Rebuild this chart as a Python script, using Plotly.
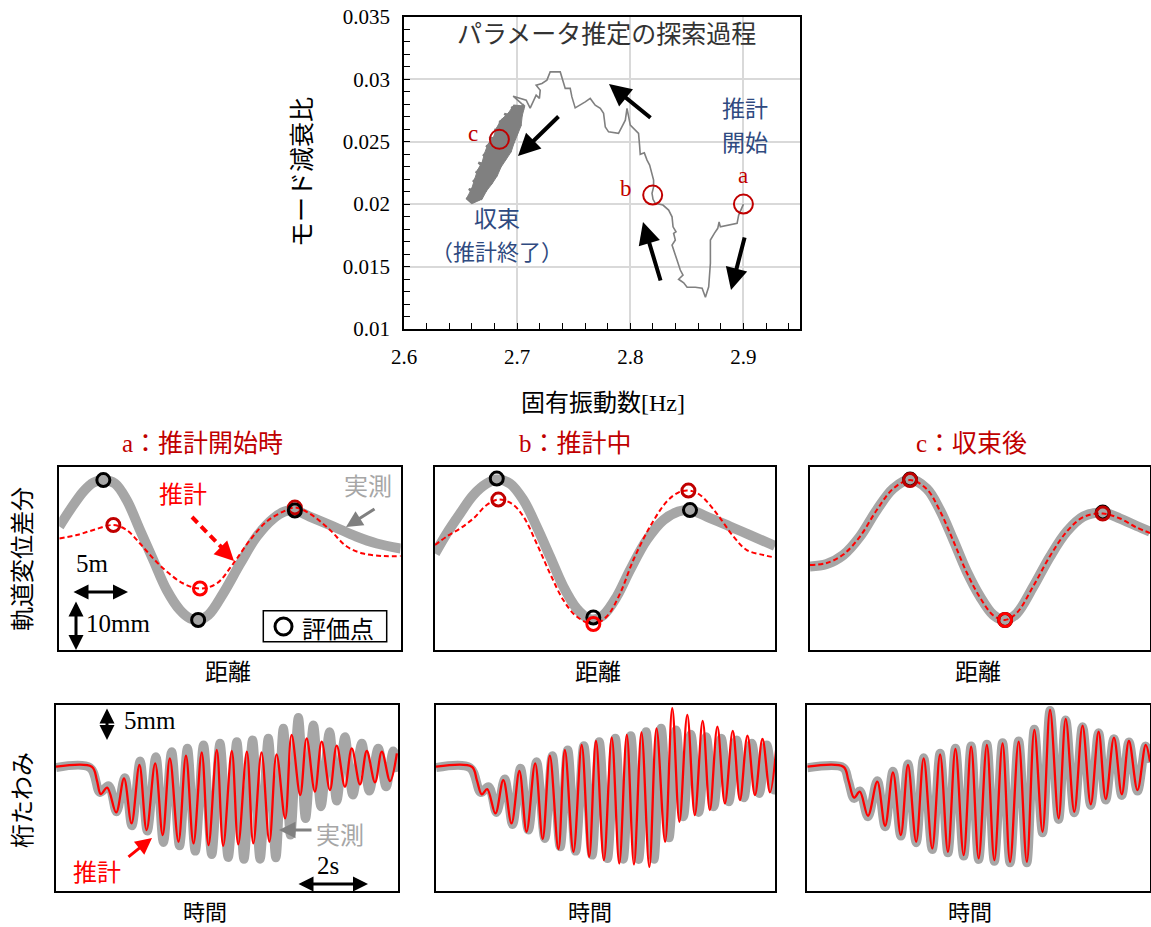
import plotly.graph_objects as go

W, H = 1151, 927
SERIF = "Liberation Serif, Noto Sans CJK JP"
JP = "Noto Sans CJK JP"
GRAY = "#A6A6A6"
DARKRED = "#C00000"
RED = "#FF0000"
NAVY = "#2F4A80"

# ---------------- search path: natural frequency [Hz] / modal damping ratio ----------------
path_freq = [2.9000, 2.8958, 2.8944, 2.8796, 2.8785, 2.8773, 2.8743, 2.8708, 2.8708, 2.8693,
             2.8664, 2.8635, 2.8575, 2.8502, 2.8472, 2.8427, 2.8466, 2.8442, 2.8413, 2.8392,
             2.8369, 2.8398, 2.8383, 2.8404, 2.8378, 2.8369, 2.8339, 2.8289, 2.8221, 2.8201,
             2.8192, 2.8206, 2.8206, 2.8171, 2.8148, 2.8124, 2.8088, 2.8082, 2.8073, 2.8000,
             2.7971, 2.7956, 2.7896, 2.7808, 2.7779, 2.7764, 2.7735, 2.7690, 2.7646, 2.7602,
             2.7513, 2.7484, 2.7469, 2.7425, 2.7410, 2.7381, 2.7292, 2.7263, 2.7219, 2.7168,
             2.7204, 2.7197, 2.7168, 2.7115, 2.7080, 2.6965, 2.7044]
path_damp = [0.02000, 0.01912, 0.01846, 0.01818, 0.01858, 0.01806, 0.01766, 0.01712, 0.01526, 0.01338,
             0.01254, 0.01326, 0.01334, 0.01334, 0.01370, 0.01398, 0.01432, 0.01472, 0.01552, 0.01606,
             0.01672, 0.01712, 0.01766, 0.01778, 0.01818, 0.01898, 0.01952, 0.01992, 0.02006, 0.02038,
             0.02086, 0.02138, 0.02192, 0.02312, 0.02352, 0.02410, 0.02398, 0.02472, 0.02566, 0.02632,
             0.02766, 0.02672, 0.02566, 0.02578, 0.02618, 0.02726, 0.02766, 0.02792, 0.02846, 0.02818,
             0.02770, 0.02858, 0.02926, 0.02926, 0.02978, 0.03058, 0.03058, 0.02992, 0.02966, 0.02952,
             0.02912, 0.02846, 0.02872, 0.02768, 0.02832, 0.02864, 0.02800]

# dense wandering of the search near the converged values (down sweep, then back up)
cluster_down_freq = [2.7066, 2.6967, 2.7045, 2.6921, 2.7035, 2.6857, 2.7004, 2.6818, 2.6973, 2.6792,
                     2.6947, 2.6742, 2.6901, 2.6713, 2.6857, 2.6691, 2.6824, 2.6650, 2.6780, 2.6623,
                     2.6730, 2.6600, 2.6690, 2.6564, 2.6605]
cluster_down_damp = [0.02780, 0.02788, 0.02707, 0.02727, 0.02627, 0.02674, 0.02557, 0.02609, 0.02489, 0.02538,
                     0.02418, 0.02480, 0.02357, 0.02409, 0.02295, 0.02336, 0.02226, 0.02272, 0.02165, 0.02202,
                     0.02106, 0.02128, 0.02040, 0.02062, 0.02005]
cluster_up_freq = [2.6551, 2.6665, 2.6574, 2.6712, 2.6609, 2.6761, 2.6634, 2.6793, 2.6658, 2.6839,
                   2.6698, 2.6884, 2.6725, 2.6915, 2.6754, 2.6956, 2.6800, 2.6992, 2.6841, 2.7010,
                   2.6887, 2.7034, 2.6949, 2.7056, 2.6905, 2.6870, 2.6843]
cluster_up_damp = [0.02048, 0.02033, 0.02121, 0.02094, 0.02189, 0.02154, 0.02260, 0.02222, 0.02332, 0.02283,
                   0.02396, 0.02345, 0.02467, 0.02413, 0.02536, 0.02477, 0.02598, 0.02544, 0.02662, 0.02617,
                   0.02723, 0.02690, 0.02775, 0.02764, 0.02620, 0.02560, 0.02520]

mark_labels = ["a", "b", "c"]
mark_freq = [2.900, 2.8198, 2.6843]
mark_damp = [0.0200, 0.02072, 0.02518]

# ---------------- track irregularity difference (distance [m], displacement [mm]) ----------------
dist_meas_a = [0, 0.94, 2.11, 2.99, 3.87, 4.89, 5.92, 7.09, 8.26, 9.44, 10.6, 11.5, 12.2, 13.1,
               14.4, 15.9, 17.35, 18.8, 19.8, 20.7, 22.0, 24.1, 26.1, 27.9, 30.0]
disp_meas_a = [4.7, 8.0, 11.7, 13.5, 14.0, 13.3, 10.0, 4.0, -2.0, -8.0, -12.0, -13.7, -14.0, -13.0,
               -8.7, -2.7, 2.7, 6.3, 7.7, 7.9, 6.7, 4.7, 2.7, 1.3, 0.3]
dist_est_a = [0, 1.53, 2.99, 4.75, 5.92, 7.09, 8.26, 9.44, 10.9, 12.36, 13.83, 15.29, 16.76,
              18.22, 19.68, 20.7, 22.0, 23.79, 25.26, 26.71, 28.47, 30.0]
disp_est_a = [2.3, 3.0, 4.0, 5.0, 4.0, 1.3, -1.7, -4.3, -6.7, -7.7, -6.7, -2.7, 2.0,
              5.7, 7.7, 8.5, 7.3, 4.0, 0.7, -0.7, -1.2, -1.2]
eval_meas_x_a, eval_meas_y_a = [3.87, 12.2, 20.7], [14.0, -14.0, 7.9]
eval_est_x_a, eval_est_y_a = [4.75, 12.36, 20.7], [5.0, -7.7, 8.5]

dist_meas_b = [0, 1.03, 2.21, 3.38, 4.56, 5.45, 6.62, 7.8, 8.97, 10.15, 11.32, 12.5, 13.53, 13.97,
               14.86, 16.04, 17.21, 18.68, 20.15, 21.47, 22.5, 23.97, 26.04, 27.8, 30.0]
disp_meas_b = [-0.7, 3.3, 7.3, 11.0, 13.3, 14.1, 13.3, 10.0, 4.7, -1.3, -7.3, -11.7, -13.7, -13.9,
               -13.0, -9.3, -4.0, 2.0, 6.0, 7.7, 8.0, 6.7, 4.7, 3.0, 0.8]
dist_est_b = [0, 1.03, 2.21, 3.38, 4.56, 5.59, 6.77, 7.8, 8.97, 10.15, 11.32, 12.5, 13.97, 15.15,
              16.33, 17.5, 18.98, 20.45, 21.47, 22.36, 23.39, 24.86, 26.33, 27.51, 28.98, 30.0]
disp_est_b = [1.0, 2.7, 4.3, 6.3, 9.0, 10.1, 9.3, 6.7, 1.3, -4.7, -10.0, -13.3, -14.8, -13.3,
              -8.7, -2.0, 4.7, 9.7, 11.5, 11.9, 11.0, 7.3, 2.7, 0.0, -1.0, -1.5]
eval_meas_x_b, eval_meas_y_b = [5.45, 13.97, 22.5], [14.3, -13.5, 8.0]
eval_est_x_b, eval_est_y_b = [5.59, 13.97, 22.36], [10.1, -14.8, 11.9]

dist_c = [0, 1.47, 2.94, 4.41, 5.89, 7.35, 8.83, 10.3, 11.47, 12.65, 13.83, 15.0, 16.18, 17.21,
          18.24, 19.71, 21.18, 22.66, 24.12, 25.83, 27.36, 28.83, 30.0]
disp_meas_c = [-3.3, -2.8, -1.0, 2.7, 8.0, 12.3, 14.1, 12.3, 8.0, 2.0, -4.3, -9.3, -13.0, -14.0,
               -12.7, -7.3, -1.3, 3.7, 6.7, 7.5, 6.3, 4.8, 3.7]
disp_est_c = [-3.0, -2.6, -0.9, 2.7, 8.0, 12.3, 14.0, 12.2, 7.8, 1.8, -4.5, -9.5, -13.1, -14.0,
              -12.6, -7.2, -1.2, 3.7, 6.6, 7.3, 6.3, 4.5, 3.4]
eval_meas_x_c, eval_meas_y_c = [8.83, 17.21, 25.83], [14.1, -14.0, 7.5]
eval_est_x_c, eval_est_y_c = [8.83, 17.21, 25.83], [14.0, -14.0, 7.3]

# ---------------- girder deflection (time [s], deflection [mm]) ----------------
time_meas_a = [0, 0.95, 1.23, 1.47, 1.69, 1.92, 2.12, 2.35, 2.55, 2.79, 3.00, 3.23, 3.45, 3.67,
               3.89, 4.12, 4.35, 4.58, 4.81, 5.05, 5.25, 5.49, 5.70, 5.93, 6.14, 6.35, 6.55, 6.77,
               6.97, 7.19, 7.40, 7.64, 7.84, 8.07, 8.29, 8.54, 8.75, 9.00, 9.22, 9.42, 9.56]
defl_meas_a = [-0.15, -0.15, -3.85, -2.85, -6.75, -1.65, -8.85, 0.85, -9.65, 1.5, -11.35, 2.25,
               -11.85, 2.75, -12.65, 3.25, -13.15, 3.5, -13.6, 3.75, -13.85, 4.0, -13.85, 4.25,
               -13.65, 5.75, -10.25, 7.35, -7.75, 6.25, -6.0, 5.25, -5.15, 4.5, -4.25, 3.5, -3.65,
               2.75, -3.0, 2.35, -0.75]
time_est_a = [0, 1.00, 1.14, 1.25, 1.43, 1.68, 1.90, 2.11, 2.33, 2.53, 2.77, 2.98, 3.18, 3.42,
              3.63, 3.84, 4.07, 4.26, 4.49, 4.67, 4.91, 5.09, 5.33, 5.51, 5.74, 5.96, 6.16, 6.40,
              6.58, 6.82, 7.00, 7.23, 7.42, 7.65, 7.84, 8.07, 8.26, 8.49, 8.68, 8.91, 9.10, 9.33, 9.52]
defl_est_a = [0, 0, -2.0, -4.1, -3.15, -6.85, -1.75, -8.5, 0.25, -9.5, 0.5, -10.25, 1.25, -11.25,
              1.65, -11.5, 2.15, -11.75, 2.5, -11.85, 2.35, -11.65, 2.25, -11.5, 2.15, -11.25, 1.85,
              -7.75, 4.75, -4.25, 4.25, -3.75, 3.75, -3.5, 3.15, -3.0, 2.75, -2.65, 2.35, -2.35,
              2.25, -2.15, 2.0]

time_meas_b = [0, 0.95, 1.25, 1.47, 1.69, 1.92, 2.14, 2.36, 2.58, 2.81, 3.04, 3.25, 3.47, 3.68,
               3.90, 4.13, 4.36, 4.56, 4.79, 5.01, 5.23, 5.44, 5.66, 5.87, 6.09, 6.29, 6.51, 6.71,
               6.91, 7.12, 7.34, 7.55, 7.76, 7.97, 8.18, 8.40, 8.60, 8.82, 9.03, 9.24, 9.45, 9.56]
defl_meas_b = [-0.15, -0.15, -3.85, -3.0, -6.85, -1.85, -8.65, -0.25, -9.5, 0.75, -10.75, 1.65,
               -12.0, 2.5, -12.65, 3.15, -13.25, 3.75, -13.75, 4.25, -13.85, 4.65, -13.9, 5.25,
               -13.85, 5.75, -10.65, 5.5, -7.5, 4.85, -6.85, 4.5, -6.0, 4.25, -5.25, 4.0, -4.65,
               3.5, -4.0, 3.25, -3.5, -0.75]
time_est_b = [0, 1.00, 1.14, 1.28, 1.43, 1.66, 1.88, 2.11, 2.33, 2.53, 2.77, 2.98, 3.18, 3.42,
              3.60, 3.84, 4.07, 4.28, 4.47, 4.69, 4.91, 5.12, 5.33, 5.53, 5.74, 5.96, 6.16, 6.40,
              6.60, 6.80, 7.02, 7.23, 7.45, 7.65, 7.86, 8.07, 8.29, 8.49, 8.70, 8.91, 9.12, 9.33, 9.52]
defl_est_b = [0, 0, -2.0, -4.15, -3.35, -7.0, -2.0, -8.5, -0.65, -9.75, 0.5, -10.85, 1.65, -12.35,
              2.5, -12.75, 3.25, -13.5, 3.85, -14.0, 4.35, -14.5, 4.75, -14.65, 5.15, -15.0, 5.75,
              -11.25, 8.75, -8.25, 7.75, -7.25, 6.85, -6.5, 6.0, -5.5, 5.35, -5.0, 4.65, -4.25,
              4.15, -3.85, 3.65]

time_c = [0, 1.01, 1.15, 1.31, 1.47, 1.70, 1.96, 2.18, 2.40, 2.62, 2.82, 3.05, 3.26, 3.50,
          3.72, 3.94, 4.15, 4.38, 4.59, 4.80, 5.03, 5.24, 5.47, 5.68, 5.92, 6.15, 6.36, 6.59,
          6.80, 7.04, 7.24, 7.48, 7.71, 7.94, 8.16, 8.36, 8.59, 8.81, 9.01, 9.25, 9.48, 9.60]
defl_meas_c = [-0.15, -0.15, -2.1, -4.75, -3.65, -7.5, -2.1, -9.0, -0.7, -10.4, 0.4, -11.4, 1.35,
               -12.4, 2.0, -12.9, 2.75, -13.4, 3.1, -13.9, 3.35, -14.15, 3.6, -14.4, 3.85, -14.4,
               5.6, -9.9, 8.4, -7.9, 7.0, -6.9, 6.0, -5.8, 5.1, -5.0, 4.2, -4.3, 3.7, -3.65, 3.1, 0.6]
defl_est_c = [0, 0, -2.0, -4.65, -3.75, -7.35, -2.25, -8.85, -0.85, -10.25, 0.25, -11.25, 1.25,
              -12.25, 1.85, -12.75, 2.65, -13.25, 3.0, -13.75, 3.25, -14.0, 3.5, -14.25, 3.75,
              -14.25, 5.5, -9.75, 8.5, -7.75, 7.15, -6.75, 6.15, -5.65, 5.25, -4.85, 4.35, -4.15,
              3.85, -3.5, 3.25, 0.75]


def fx(px):
    return px / W


def fy(py):
    return 1 - py / H


fig = go.Figure()

# ---- search path ----
PATH_GRAY = "#808080"
# filled envelope of the converged cloud: left-side samples going down, right-side samples coming back
hull_freq = cluster_down_freq[1::2] + cluster_down_freq[0::2][::-1]
hull_damp = cluster_down_damp[1::2] + cluster_down_damp[0::2][::-1]
fig.add_trace(go.Scatter(x=hull_freq, y=hull_damp, mode="lines", xaxis="x", yaxis="y",
                         fill="toself", fillcolor=PATH_GRAY, line=dict(color=PATH_GRAY, width=1),
                         showlegend=False, hoverinfo="skip"))
fig.add_trace(go.Scatter(x=path_freq, y=path_damp, mode="lines", xaxis="x", yaxis="y",
                         line=dict(color=PATH_GRAY, width=1.6), showlegend=False))
fig.add_trace(go.Scatter(x=[path_freq[-1]] + cluster_down_freq + cluster_up_freq,
                         y=[path_damp[-1]] + cluster_down_damp + cluster_up_damp,
                         mode="lines", xaxis="x", yaxis="y",
                         line=dict(color=PATH_GRAY, width=2.2), showlegend=False))
fig.add_trace(go.Scatter(x=mark_freq, y=mark_damp, mode="markers", xaxis="x", yaxis="y",
                         marker=dict(symbol="circle-open", size=19, color=DARKRED, line=dict(width=2)),
                         showlegend=False))


def mid_panel(n, xm, ym, xe, ye, exm, eym, exe, eye, est_on_top):
    ax, ay = "x%d" % n, "y%d" % n
    fig.add_trace(go.Scatter(x=xm, y=ym, mode="lines", xaxis=ax, yaxis=ay, line_shape="spline",
                             line=dict(color=GRAY, width=10), showlegend=False))
    fig.add_trace(go.Scatter(x=xe, y=ye, mode="lines", xaxis=ax, yaxis=ay, line_shape="spline",
                             line=dict(color=RED, width=2, dash="5px,3px"), showlegend=False))
    black = go.Scatter(x=exm, y=eym, mode="markers", xaxis=ax, yaxis=ay, showlegend=False,
                       marker=dict(symbol="circle-open", size=13, color="black", line=dict(width=3)))
    red = go.Scatter(x=exe, y=eye, mode="markers", xaxis=ax, yaxis=ay, showlegend=False,
                     marker=dict(symbol="circle-open", size=13, color=[DARKRED, RED, DARKRED],
                                 line=dict(width=3)))
    if est_on_top:
        fig.add_trace(black)
        fig.add_trace(red)
    else:
        fig.add_trace(red)
        fig.add_trace(black)


mid_panel(2, dist_meas_a, disp_meas_a, dist_est_a, disp_est_a,
          eval_meas_x_a, eval_meas_y_a, eval_est_x_a, eval_est_y_a, False)
mid_panel(3, dist_meas_b, disp_meas_b, dist_est_b, disp_est_b,
          eval_meas_x_b, eval_meas_y_b, eval_est_x_b, eval_est_y_b, True)
mid_panel(4, dist_c, disp_meas_c, dist_c, disp_est_c,
          eval_meas_x_c, eval_meas_y_c, eval_est_x_c, eval_est_y_c, True)


def low_panel(n, tm, dm, te, de):
    ax, ay = "x%d" % n, "y%d" % n
    fig.add_trace(go.Scatter(x=tm, y=dm, mode="lines", xaxis=ax, yaxis=ay, line_shape="spline",
                             line=dict(color=GRAY, width=9), showlegend=False))
    fig.add_trace(go.Scatter(x=te, y=de, mode="lines", xaxis=ax, yaxis=ay, line_shape="spline",
                             line=dict(color=RED, width=2.3), showlegend=False))


low_panel(5, time_meas_a, defl_meas_a, time_est_a, defl_est_a)
low_panel(6, time_meas_b, defl_meas_b, time_est_b, defl_est_b)
low_panel(7, time_c, defl_meas_c, time_c, defl_est_c)

# ---- axes ----
frame = dict(showline=True, mirror=True, linecolor="black", linewidth=2, showgrid=False,
             zeroline=False, showticklabels=False, ticks="", automargin=False)

layout_axes = {}
layout_axes["xaxis"] = dict(domain=[fx(404), fx(800)], range=[2.6, 2.95], anchor="y",
                            tick0=2.6, dtick=0.1, showgrid=True, gridcolor="#D9D9D9", gridwidth=2,
                            showline=True, mirror=True, linecolor="black", linewidth=1.5,
                            zeroline=False, ticks="inside", ticklen=6, tickcolor="black",
                            ticklabelstandoff=8, automargin=False,
                            tickfont=dict(family=SERIF, size=21, color="black"),
                            minor=dict(dtick=0.02, ticks="inside", ticklen=6, tickcolor="black",
                                       showgrid=False))
layout_axes["yaxis"] = dict(domain=[fy(329), fy(16.7)], range=[0.01, 0.035], anchor="x",
                            tick0=0.01, dtick=0.005, showgrid=True, gridcolor="#D9D9D9", gridwidth=2,
                            showline=True, mirror=True, linecolor="black", linewidth=1.5,
                            zeroline=False, ticks="inside", ticklen=6, tickcolor="black",
                            ticklabelstandoff=8, automargin=False,
                            tickfont=dict(family=SERIF, size=21, color="black"),
                            minor=dict(dtick=0.001, ticks="inside", ticklen=6, tickcolor="black",
                                       showgrid=False))

mid_dom = [(59.3, 400.7), (435, 775), (810, 1150)]
for i, (l, r) in enumerate(mid_dom):
    n = i + 2
    layout_axes["xaxis%d" % n] = dict(frame, domain=[fx(l), fx(r)], range=[0, 30], anchor="y%d" % n)
    layout_axes["yaxis%d" % n] = dict(frame, domain=[fy(650), fy(466.7)], range=[-20, 16.67],
                                      anchor="x%d" % n)

low_dom = [(56, 398.3, 9.56), (436, 775, 9.47), (807.3, 1150, 9.6)]
for i, (l, r, tmax) in enumerate(low_dom):
    n = i + 5
    layout_axes["xaxis%d" % n] = dict(frame, domain=[fx(l), fx(r)], range=[0, tmax], anchor="y%d" % n)
    layout_axes["yaxis%d" % n] = dict(frame, domain=[fy(890.5), fy(704.6)], range=[-18.55, 9.3],
                                      anchor="x%d" % n)

# ---- text and arrows ----
ann = []


def text(s, x, y, size=24, color="black", family=JP, angle=0):
    ann.append(dict(text=s, x=fx(x), y=fy(y), xref="paper", yref="paper", showarrow=False,
                    font=dict(size=size, color=color, family=family), textangle=angle,
                    xanchor="center", yanchor="middle"))


def arrow(x0, y0, x1, y1, color="black", width=3, size=1.0, head=2, both=False):
    d = dict(x=fx(x1), y=fy(y1), xref="paper", yref="paper", ax=x0 - x1, ay=y0 - y1,
             axref="pixel", ayref="pixel", text="", showarrow=True, arrowhead=head,
             arrowsize=size, arrowwidth=width, arrowcolor=color, standoff=0, startstandoff=0)
    if both:
        d.update(arrowside="end+start", startarrowhead=head, startarrowsize=size)
    ann.append(d)


# search plot
text("パラメータ推定の探索過程", 606, 32, size=25, color="#333333")
text("推計", 745, 107, size=23, color=NAVY)
text("開始", 745, 141, size=23, color=NAVY)
text("収束", 497, 217, size=23, color=NAVY)
text("（推計終了）", 497, 250, size=22, color=NAVY)
text("モード減衰比", 300, 172, size=25, angle=-90)
text("固有振動数[Hz]", 603, 403, family=SERIF)
shifts = [(0, 29), (-27, 7), (-26, 6)]
for lab, f, d, (dx, dy) in zip(mark_labels, mark_freq, mark_damp, shifts):
    ann.append(dict(text=lab, x=f, y=d, xref="x", yref="y", xshift=dx, yshift=dy, showarrow=False,
                    font=dict(family=SERIF, size=23, color=DARKRED)))
arrow(745, 236, 731, 290, width=4, size=1.1)
arrow(661, 282, 643, 222, width=4, size=1.1)
arrow(652, 119, 609, 84, width=4, size=1.1)
arrow(560, 115, 518, 156, width=4, size=1.1)

# panel titles and axis labels
text("a：推計開始時", 202, 443, size=25, color=DARKRED, family=SERIF)
text("b：推計中", 575, 443, size=25, color=DARKRED, family=SERIF)
text("c：収束後", 971, 443, size=25, color=DARKRED, family=SERIF)
for xc in (228, 598, 978):
    text("距離", xc, 670, size=23)
for xc in (205, 590, 970):
    text("時間", xc, 910, size=22)
text("軌道変位差分", 20, 559, angle=-90)
text("桁たわみ", 20, 800, angle=-90)

# middle-left panel notes
text("推計", 183, 492, color=RED)
text("実測", 368, 485, color=GRAY)
arrow(376, 508, 346, 527, color="#808080", width=3, size=1.1)
arrow(226, 553, 234, 561, color=RED, width=3.5, size=1.1)
text("5m", 92, 563, size=25, family=SERIF)
arrow(72, 592, 128, 592, width=3, size=1.0, both=True)
arrow(76, 600, 76, 650, width=3, size=1.0, both=True)
text("10mm", 118, 623, size=25, family=SERIF)
text("評価点", 338, 627, size=24)

# lower-left panel notes
text("5mm", 150, 720, size=25, family=SERIF)
arrow(107, 707, 107, 740, width=3, size=1.0, both=True)
text("2s", 328, 865, size=25, family=SERIF)
arrow(297, 884, 368, 884, width=3, size=1.0, both=True)
text("推計", 97, 870, color=RED)
arrow(127, 858, 152, 838, color=RED, width=3, size=1.1)
text("実測", 340, 833, color=GRAY)
arrow(313, 830, 279, 830, color="#808080", width=3, size=1.1)

shapes = [
    dict(type="line", xref="paper", yref="paper", x0=fx(192), y0=fy(517), x1=fx(227), y1=fy(553),
         line=dict(color=RED, width=4, dash="8px,5px")),
    dict(type="rect", xref="paper", yref="paper", x0=fx(263.3), y0=fy(641.7), x1=fx(386.7),
         y1=fy(610.7), line=dict(color="black", width=1.5), fillcolor="white", layer="above"),
    dict(type="circle", xref="paper", yref="paper", x0=fx(275), y0=fy(635), x1=fx(292),
         y1=fy(618), line=dict(color="black", width=3), layer="above"),
]

fig.update_layout(width=W, height=H, margin=dict(l=0, r=0, t=0, b=0, pad=0, autoexpand=False),
                  paper_bgcolor="white", plot_bgcolor="white", showlegend=False,
                  annotations=ann, shapes=shapes, **layout_axes)

fig.write_html("out.html", post_script="document.body.style.margin='0';")
